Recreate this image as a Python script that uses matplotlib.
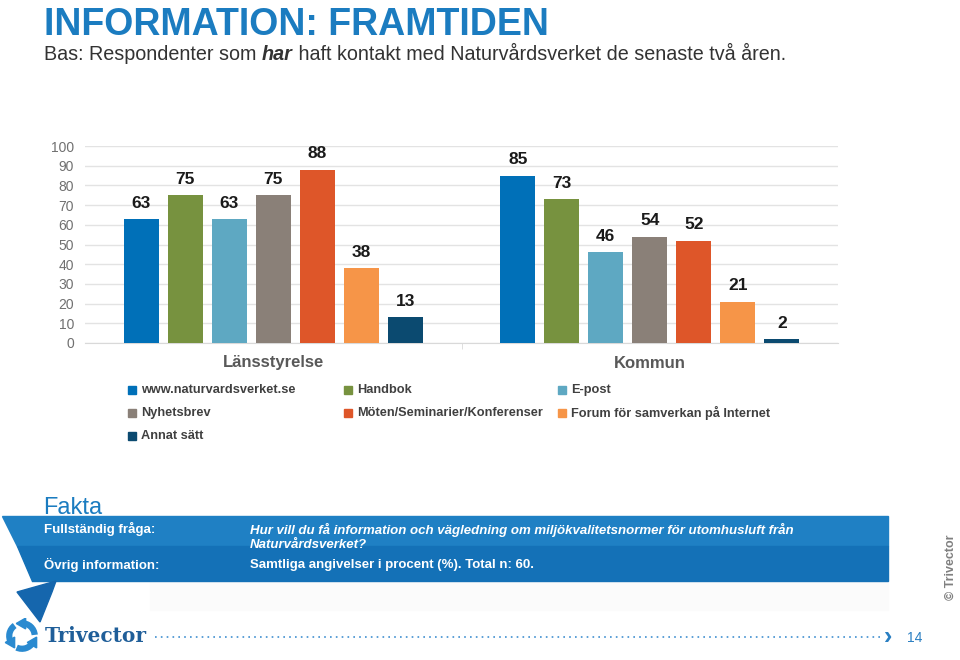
import matplotlib
matplotlib.use("Agg")
import matplotlib.pyplot as plt
import numpy as np
from matplotlib.patches import Polygon, Rectangle, Arc

plt.rcParams['font.family'] = ['Liberation Sans', 'DejaVu Sans']

# ---------------- data ----------------
groups = ["Länsstyrelse", "Kommun"]
series = ["www.naturvardsverket.se", "Handbok", "E-post", "Nyhetsbrev",
          "Möten/Seminarier/Konferenser", "Forum för samverkan på Internet", "Annat sätt"]
lansstyrelse = [63, 75, 63, 75, 88, 38, 13]
kommun = [85, 73, 46, 54, 52, 21, 2]
colors = ["#0070B8", "#77923F", "#5EA8C2", "#8A8078", "#DE5629", "#F69548", "#0B4A70"]
yticks = [0, 10, 20, 30, 40, 50, 60, 70, 80, 90, 100]

title = "INFORMATION: FRAMTIDEN"
sub_a = "Bas: Respondenter som "
sub_b = "har"
sub_c = " haft kontakt med Naturvårdsverket de senaste två åren."
q_label = "Fullständig fråga:"
q_text = "Hur vill du få information och vägledning om miljökvalitetsnormer för utomhusluft från\nNaturvårdsverket?"
o_label = "Övrig information:"
o_text = "Samtliga angivelser i procent (%). Total n: 60."

W, H = 960, 660
fig = plt.figure(figsize=(9.6, 6.6), dpi=100)
fig.patch.set_facecolor("white")

def fx(x):
    return x / W

def fy(y):
    return 1 - y / H

# ---------------- chart ----------------
ax = fig.add_axes([fx(85), fy(343), (838 - 85) / W, (343 - 146) / H])
n = len(series)
step = 44 / 376.5
bw = 35 / 376.5
x = np.arange(len(groups))
vals = np.array([lansstyrelse, kommun])
for i in range(n):
    pos = x + (i - (n - 1) / 2) * step
    bars = ax.bar(pos, vals[:, i], width=bw, color=colors[i], zorder=3)
    ax.bar_label(bars, padding=6, fontsize=12.5, fontweight="bold", color="#1A1A1A")

ax.set_xlim(-0.5, 1.5)
ax.set_ylim(0, 100)
ax.set_yticks(yticks)
ax.set_yticklabels([str(t) for t in yticks], color="#707070", fontsize=10)
ax.set_xticks(x)
ax.set_xticklabels(groups, fontsize=12, fontweight="bold", color="#595959")
ax.set_xticks([0.5], minor=True)
ax.tick_params(axis="x", which="major", length=0, pad=9)
ax.tick_params(axis="x", which="minor", length=4, color="#D9D9D9")
ax.tick_params(axis="y", length=0, pad=8)
ax.grid(axis="y", color="#E3E3E3", linewidth=1, zorder=0)
for s in ["top", "right", "left"]:
    ax.spines[s].set_visible(False)
ax.spines["bottom"].set_color("#D9D9D9")

# ---------------- legend (manual) ----------------
leg_cols = [128, 344, 558]
leg_rows = [390, 413, 436]
for i, name in enumerate(series):
    r, c = divmod(i, 3)
    lx, ly = leg_cols[c], leg_rows[r]
    fig.patches.append(Rectangle((fx(lx), fy(ly + 4)), 8 / W, 8 / H,
                                 transform=fig.transFigure, color=colors[i]))
    fig.text(fx(lx + 13), fy(ly), name, fontsize=9.2, fontweight="bold",
             color="#404040", va="center", ha="left")

# ---------------- title ----------------
fig.text(fx(44), fy(35), title, fontsize=27, fontweight="bold", color="#1B7CC0",
         va="baseline", ha="left")

fig.canvas.draw()
renderer = fig.canvas.get_renderer()
sfs = 14.2
t1 = fig.text(fx(44), fy(55), sub_a, fontsize=sfs, color="#333333", va="center", ha="left")
bb = t1.get_window_extent(renderer)
t2 = fig.text(bb.x1 / W, fy(55), sub_b, fontsize=sfs, color="#333333", va="center",
              ha="left", fontweight="bold", fontstyle="italic")
bb2 = t2.get_window_extent(renderer)
fig.text(bb2.x1 / W, fy(55), sub_c, fontsize=sfs, color="#333333", va="center", ha="left")

# ---------------- Fakta ribbon ----------------
fig.text(fx(43), fy(508), "Fakta", fontsize=17, color="#1B7CC0", va="center", ha="left")
fig.patches.append(Rectangle((fx(150), fy(610)), (888 - 150) / W, (610 - 581) / H,
                             transform=fig.transFigure, color="#FBFBFB", zorder=0))
band_top = Polygon([(fx(2), fy(516)), (fx(888), fy(516)), (fx(888), fy(546)), (fx(17), fy(546))],
                   closed=True, transform=fig.transFigure, color="#1F80C4")
band_bot = Polygon([(fx(17), fy(546)), (fx(888), fy(546)), (fx(888), fy(581)), (fx(32), fy(581))],
                   closed=True, transform=fig.transFigure, color="#1471B7")
tail = Polygon([(fx(17), fy(592)), (fx(56), fy(581)), (fx(52), fy(592)), (fx(40), fy(622))],
               closed=True, transform=fig.transFigure, color="#1566AD")
fig.patches.extend([band_top, band_bot, tail])

fig.text(fx(44), fy(529), q_label, fontsize=9.5, fontweight="bold", color="white", va="center")
fig.text(fx(250), fy(537), q_text, fontsize=9.5, fontweight="bold", fontstyle="italic",
         color="white", va="center", linespacing=1.3)
fig.text(fx(44), fy(565), o_label, fontsize=9.5, fontweight="bold", color="white", va="center")
fig.text(fx(250), fy(565), o_text, fontsize=9.5, fontweight="bold", color="white", va="center")

# ---------------- footer ----------------
logo_ax = fig.add_axes([fx(4), fy(654), 36 / W, 36 / H])
logo_ax.set_xlim(-1.2, 1.2)
logo_ax.set_ylim(-1.2, 1.2)
logo_ax.axis("off")
for a0 in [100, 220, 340]:
    logo_ax.add_patch(Arc((0, 0), 1.7, 1.7, theta1=a0 - 95, theta2=a0 - 10,
                          lw=4.5, color="#2A8AD0"))
    ang = np.deg2rad(a0 - 10)
    logo_ax.plot([0.85 * np.cos(ang)], [0.85 * np.sin(ang)], marker=(3, 0, a0 - 10),
                 ms=9, color="#2A8AD0")
fig.text(fx(45), fy(636), "Trivector", fontsize=14.5, fontweight="bold", family="DejaVu Serif",
         color="#1F5E99", va="center", ha="left")
fig.lines.append(plt.Line2D([fx(155), fx(884)], [fy(637), fy(637)], transform=fig.transFigure,
                            color="#3F8FD0", lw=1.2, linestyle=(0, (1, 2.5))))
fig.text(fx(884), fy(637), "›", fontsize=18, fontweight="bold", color="#2A7FC2",
         va="center", ha="left")
fig.text(fx(907), fy(638), "14", fontsize=10, color="#2A7FC2", va="center", ha="left")
fig.text(fx(951), fy(567), "© Trivector", fontsize=9, fontweight="bold", color="#808080",
         rotation=90, va="center", ha="center")

fig.savefig("out.png", dpi=100, facecolor="white")
